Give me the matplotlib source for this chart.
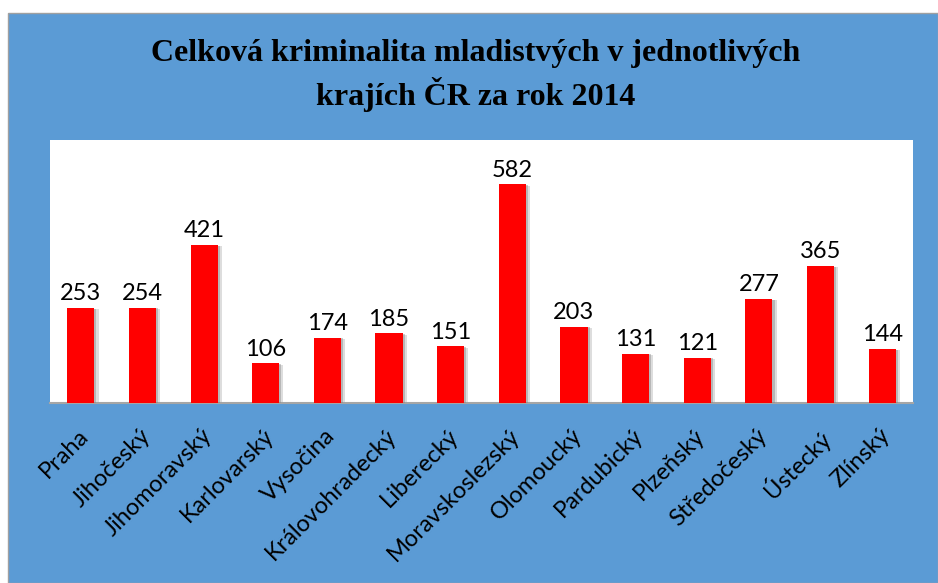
import matplotlib
matplotlib.use("Agg")
import matplotlib.pyplot as plt
from matplotlib.patches import Rectangle
import matplotlib.patheffects as pe
from matplotlib.transforms import offset_copy

categories = ["Praha", "Jihočeský", "Jihomoravský", "Karlovarský", "Vysočina",
              "Královohradecký", "Liberecký", "Moravskoslezský", "Olomoucký",
              "Pardubický", "Plzeňský", "Středočeský", "Ústecký", "Zlínský"]
values = [253, 254, 421, 106, 174, 185, 151, 582, 203, 131, 121, 277, 365, 144]
title_lines = ["Celková kriminalita mladistvých v jednotlivých", "krajích ČR za rok 2014"]

W, H = 938, 583
fig = plt.figure(figsize=(W / 100, H / 100), dpi=100)
fig.patch.set_facecolor("white")

blue = "#5B9BD5"
fig.patches.append(Rectangle((8 / W, 0), 1 - 8 / W, 1 - 13 / H, transform=fig.transFigure,
                             facecolor=blue, edgecolor="#A0A0A0", linewidth=1.0, zorder=-1))

ax = fig.add_axes([50 / W, 1 - 403 / H, (913 - 50) / W, (403 - 140) / H])
ax.set_zorder(1)
ax.set_facecolor("white")
x = list(range(len(categories)))
bars = ax.bar(x, values, width=0.44, color="#FF0000", zorder=3)
for b in bars:
    b.set_path_effects([pe.SimplePatchShadow(offset=(3, -1), shadow_rgbFace="#A0A0A0", alpha=0.35),
                        pe.SimplePatchShadow(offset=(1.5, -0.5), shadow_rgbFace="#808080", alpha=0.4),
                        pe.Normal()])
ax.set_ylim(0, 700)
ax.set_xlim(-0.5, len(categories) - 0.5)
for s in ["top", "left", "right"]:
    ax.spines[s].set_visible(False)
ax.spines["bottom"].set_color("#A6A6A6")
ax.spines["bottom"].set_linewidth(1.5)
ax.set_yticks([])
ax.set_xticks([])

font = "Lato"
for xi, v in zip(x, values):
    ax.annotate(str(v), (xi, v), xytext=(0, 2.5), textcoords="offset points",
                ha="center", va="bottom", fontsize=17, family=font, color="black")

trans = offset_copy(ax.get_xaxis_transform(), fig=fig, x=-3, y=-22, units="dots")
for xi, c in zip(x, categories):
    ax.text(xi, 0, c, transform=trans, rotation=45, rotation_mode="anchor",
            ha="right", va="top", fontsize=17, family=font, color="black")

fig.text(476 / W, 1 - 54 / H, title_lines[0], ha="center", va="center",
         fontsize=23, fontweight="bold", family="Liberation Serif")
fig.text(476 / W, 1 - 94 / H, title_lines[1], ha="center", va="center",
         fontsize=23, fontweight="bold", family="Liberation Serif")

fig.savefig("out.png", dpi=100)
